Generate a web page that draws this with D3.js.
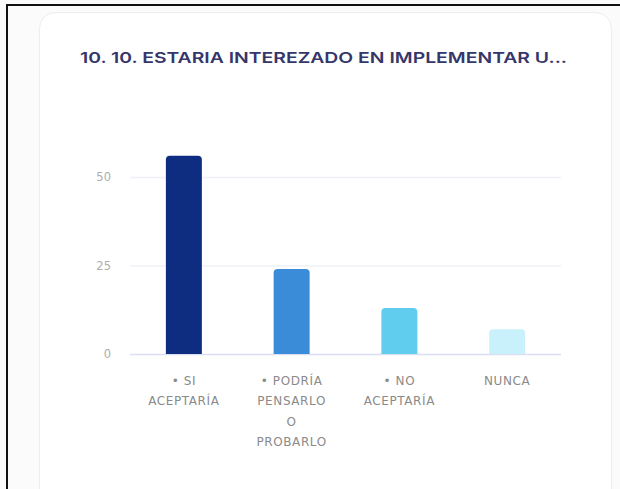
<!DOCTYPE html>
<html>
<head>
<meta charset="utf-8">
<script src="https://cdn.jsdelivr.net/npm/d3@7"></script>
<style>
  html, body { margin: 0; padding: 0; background: #fbfbfb; }
  svg { display: block; }
</style>
</head>
<body>
<svg id="chart" width="620" height="489"></svg>
<script>
// datos del grafico
const titulo = "10. 10. ESTARIA INTEREZADO EN IMPLEMENTAR U...";
const categorias = ["si", "podria", "no", "nunca"];
const etiquetas = [
    ["• SI", "ACEPTARÍA"],
    ["• PODRÍA", "PENSARLO", "O", "PROBARLO"],
    ["• NO", "ACEPTARÍA"],
    ["NUNCA"]
];
const valores = [56, 24, 13, 7];
const colores = ["#0f2d80", "#3a8bd8", "#60cdee", "#c9f1fb"];
const ticksY = [0, 25, 50];

function drawChart() {
    const svg = d3.select("#chart");
    svg.selectAll("*").remove();

    // marco negro del recorte
    svg.append("line")
    .attr("x1", 6).attr("y1", 5).attr("x2", 620).attr("y2", 5)
    .style("stroke", "#111").style("stroke-width", 2);
    svg.append("line")
    .attr("x1", 7).attr("y1", 4).attr("x2", 7).attr("y2", 489)
    .style("stroke", "#111").style("stroke-width", 2);

    // tarjeta
    svg.append("rect")
    .attr("x", 39.5).attr("y", 12.5)
    .attr("width", 572).attr("height", 520)
    .attr("rx", 16)
    .style("fill", "#fff")
    .style("stroke", "#ececf1");

    svg.append("text")
    .attr("x", 80).attr("y", 63)
    .attr("textLength", 487)
    .attr("lengthAdjust", "spacingAndGlyphs")
    .style("font-family", "Inter, 'DejaVu Sans', sans-serif")
    .style("font-weight", 600)
    .style("font-size", "15px")
    .style("fill", "#35366a")
    .text(titulo);

    const area = { left: 130, right: 561, top: 141.6, bottom: 354 };

    const scX = d3.scaleBand()
    .domain(categorias)
    .range([area.left, area.right])
    .paddingInner(0.666)
    .paddingOuter(0.333);

    const scY = d3.scaleLinear()
    .domain([0, 60])
    .range([area.bottom, area.top]);

    // lineas de la cuadricula
    svg.append("g")
    .selectAll("line")
    .data(ticksY)
    .enter()
    .append("line")
    .attr("x1", area.left).attr("x2", area.right)
    .attr("y1", d => scY(d) + 0.5).attr("y2", d => scY(d) + 0.5)
    .style("stroke", d => d === 0 ? "#dcdff1" : "#eff0f5")
    .style("stroke-width", 1.5);

    // eje Y
    const axisY = d3.axisLeft(scY).tickValues(ticksY).tickSize(0).tickPadding(0);
    const gY = svg.append("g")
    .attr("transform", `translate(111, 0)`)
    .call(axisY);
    gY.select(".domain").remove();
    gY.selectAll("text")
    .style("font-family", "'DejaVu Sans', sans-serif")
    .style("font-size", "11.5px")
    .style("fill", "#adadad");

    // columnas con esquinas superiores redondeadas
    const r = 4;
    svg.append("g")
    .selectAll("path")
    .data(categorias)
    .enter()
    .append("path")
    .attr("d", (d, i) => {
        const x0 = scX(d), x1 = scX(d) + scX.bandwidth();
        const y0 = scY(valores[i]), y1 = scY(0);
        return `M${x0},${y1}V${y0 + r}Q${x0},${y0} ${x0 + r},${y0}` +
               `H${x1 - r}Q${x1},${y0} ${x1},${y0 + r}V${y1}Z`;
    })
    .style("fill", (d, i) => colores[i]);

    // etiquetas del eje X
    const gX = svg.append("g");
    gX.selectAll("text")
    .data(categorias)
    .enter()
    .append("text")
    .attr("text-anchor", "middle")
    .style("font-family", "'DejaVu Sans', sans-serif")
    .style("font-size", "12px")
    .style("letter-spacing", "0.6px")
    .style("fill", "#8a8a8a")
    .each(function(d, i) {
        const cx = scX(d) + scX.bandwidth() / 2;
        d3.select(this).selectAll("tspan")
        .data(etiquetas[i])
        .enter()
        .append("tspan")
        .attr("x", cx)
        .attr("y", (t, k) => 385 + k * 20.3)
        .text(t => t);
    });
}

drawChart();
</script>
</body>
</html>
